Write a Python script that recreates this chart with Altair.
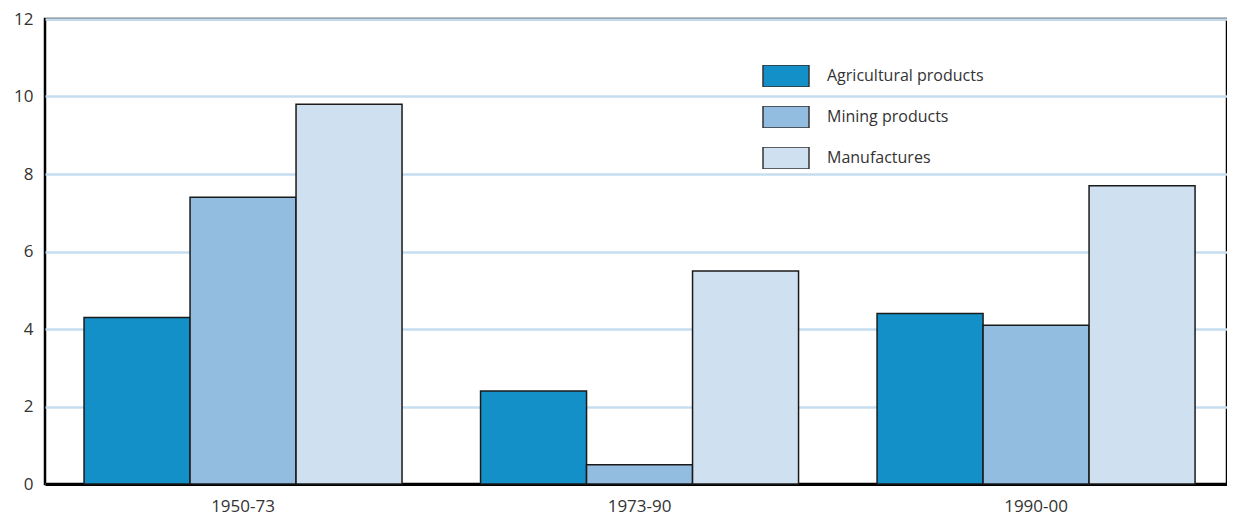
import altair as alt
import pandas as pd

periods = ["1950-73", "1973-90", "1990-00"]
series = ["Agricultural products", "Mining products", "Manufactures"]
agri = [4.3, 2.4, 4.4]
mining = [7.4, 0.5, 4.1]
manuf = [9.8, 5.5, 7.7]
colors = ["#1490C9", "#93BDE0", "#CFE0F0"]
y_ticks = [0, 2, 4, 6, 8, 10, 12]

rows = []
for i, p in enumerate(periods):
    for s, vals in zip(series, [agri, mining, manuf]):
        rows.append({"period": p, "series": s, "value": vals[i]})
df = pd.DataFrame(rows)

FONT = "Open Sans"

chart = alt.Chart(df).mark_bar(stroke="#1a1a1a", strokeWidth=1.5).encode(
    x=alt.X("period:N", sort=periods, title=None,
            scale=alt.Scale(paddingInner=0.198, paddingOuter=0.0895, align=0.55),
            axis=alt.Axis(labelAngle=0, labelFontSize=17, labelFont=FONT, labelColor="#333333",
                          labelPadding=14, ticks=False, domain=True, domainColor="#000000",
                          domainWidth=3, grid=False)),
    xOffset=alt.XOffset("series:N", sort=series),
    y=alt.Y("value:Q", title=None,
            scale=alt.Scale(domain=[0, 12], nice=False),
            axis=alt.Axis(values=y_ticks, labelFontSize=17, labelFont=FONT, labelColor="#333333",
                          labelPadding=12, ticks=False, domain=False, grid=True,
                          gridColor="#C6DCEF", gridWidth=2.5)),
    color=alt.Color("series:N", sort=series,
                    scale=alt.Scale(domain=series, range=colors),
                    legend=alt.Legend(title=None, orient="none", legendX=717, legendY=46,
                                      symbolType="M-1,-0.478H1V0.478H-1Z", symbolSize=2116,
                                      symbolStrokeColor="#333333", symbolStrokeWidth=1.5,
                                      symbolOpacity=1,
                                      labelFont=FONT, labelFontSize=16, labelColor="#333333",
                                      labelOffset=17, rowPadding=19, clipHeight=22, padding=0)),
).properties(
    width=1182, height=465,
    autosize=alt.AutoSizeParams(type="none"),
    padding={"left": 37, "top": 11, "right": 0, "bottom": 31},
).configure_view(
    stroke="#000000", strokeWidth=2.5
)

chart.save("out.html", embed_options={"renderer": "svg", "actions": False})
